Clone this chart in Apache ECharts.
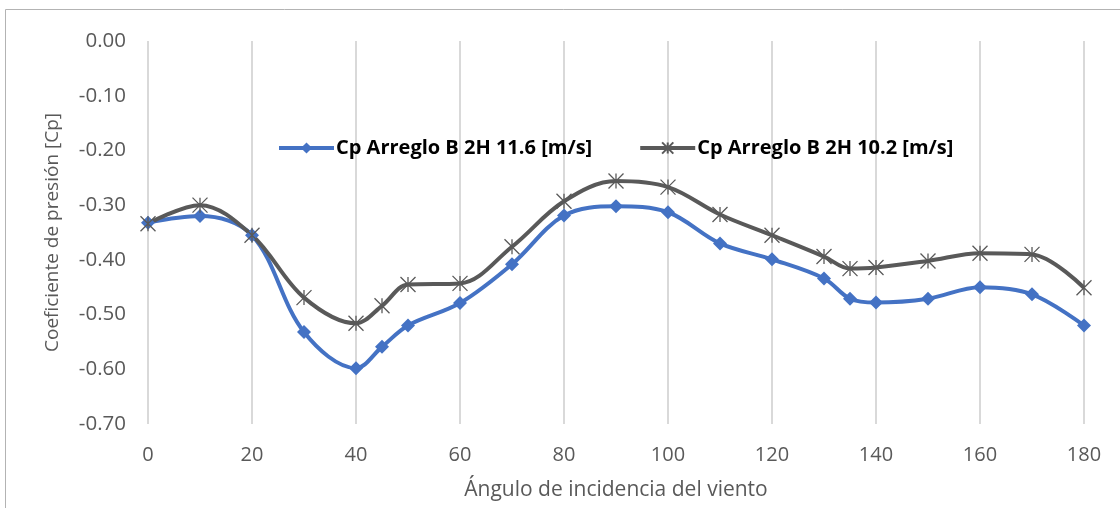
<!DOCTYPE html>
<html>
<head>
<meta charset="utf-8">
<script src="https://cdn.jsdelivr.net/npm/echarts@6/dist/echarts.min.js"></script>
<style>
html,body{margin:0;padding:0;background:#fff;}
#chart{width:1120px;height:508px;}
</style>
</head>
<body>
<div id="chart"></div>
<script>
var angles = [0,10,20,30,40,45,50,60,70,80,90,100,110,120,130,135,140,150,160,170,180];
var cp116 = [-0.332,-0.320,-0.355,-0.532,-0.598,-0.559,-0.520,-0.479,-0.408,-0.319,-0.302,-0.313,-0.370,-0.399,-0.434,-0.471,-0.478,-0.471,-0.450,-0.463,-0.520];
var cp102 = [-0.334,-0.300,-0.355,-0.469,-0.516,-0.484,-0.445,-0.443,-0.376,-0.293,-0.256,-0.267,-0.317,-0.355,-0.394,-0.416,-0.414,-0.402,-0.388,-0.390,-0.451];
var seriesNames = ['Cp Arreglo B 2H 11.6 [m/s]','Cp Arreglo B 2H 10.2 [m/s]'];
var xTitle = 'Ángulo de incidencia del viento';
var yTitle = 'Coeficiente de presión [Cp]';

function pairs(xs, ys){ return xs.map(function(x,i){ return [x, ys[i]]; }); }

var FONT = 'Open Sans';
var chart = echarts.init(document.getElementById('chart'), null, {renderer:'canvas'});
var starPath = 'path://M0,0L10,10M10,0L0,10M5,0L5,10';
chart.setOption({
  animation:false,
  backgroundColor:'#ffffff',
  graphic:[{type:'rect', shape:{x:5.5,y:9.5,width:1200,height:600}, style:{fill:'none', stroke:'#b3b3b3', lineWidth:1}, silent:true}],
  grid:{left:148, right:36, top:41, bottom:84},
  legend:{
    left:272, top:133, itemWidth:55, itemHeight:14, itemGap:46,
    lineStyle:{width:4},
    textStyle:{fontFamily:FONT, fontSize:20, fontWeight:'bold', color:'#000000', padding:[0,0,0,-3]},
    data:seriesNames
  },
  xAxis:{
    type:'value', min:0, max:180, interval:20,
    name:xTitle, nameLocation:'middle', nameGap:56,
    nameTextStyle:{fontFamily:FONT, fontSize:21, color:'#595959'},
    axisLine:{show:false}, axisTick:{show:false},
    axisLabel:{fontFamily:FONT, fontSize:20, color:'#595959', margin:21},
    splitLine:{show:true, lineStyle:{color:'#d9d9d9', width:2}}
  },
  yAxis:{
    type:'value', min:-0.7, max:0, interval:0.1,
    name:yTitle, nameLocation:'middle', nameGap:86, nameRotate:90,
    nameTextStyle:{fontFamily:FONT, fontSize:19, color:'#595959'},
    axisLine:{show:false}, axisTick:{show:false},
    axisLabel:{fontFamily:FONT, fontSize:20.5, color:'#595959', margin:22,
      formatter:function(v){ return (Math.abs(v)<1e-9?0:v).toFixed(2); }},
    splitLine:{show:false}
  },
  series:[
    {name:seriesNames[0], type:'line', data:pairs(angles,cp116), smooth:0.35,
     symbol:'diamond', symbolSize:14,
     itemStyle:{color:'#4472C4'}, lineStyle:{color:'#4472C4', width:4}},
    {name:seriesNames[1], type:'line', data:pairs(angles,cp102), smooth:0.35,
     symbol:starPath, symbolSize:15,
     itemStyle:{color:'#595959', borderColor:'#595959', borderWidth:1.3}, lineStyle:{color:'#595959', width:4}}
  ]
});
</script>
</body>
</html>
